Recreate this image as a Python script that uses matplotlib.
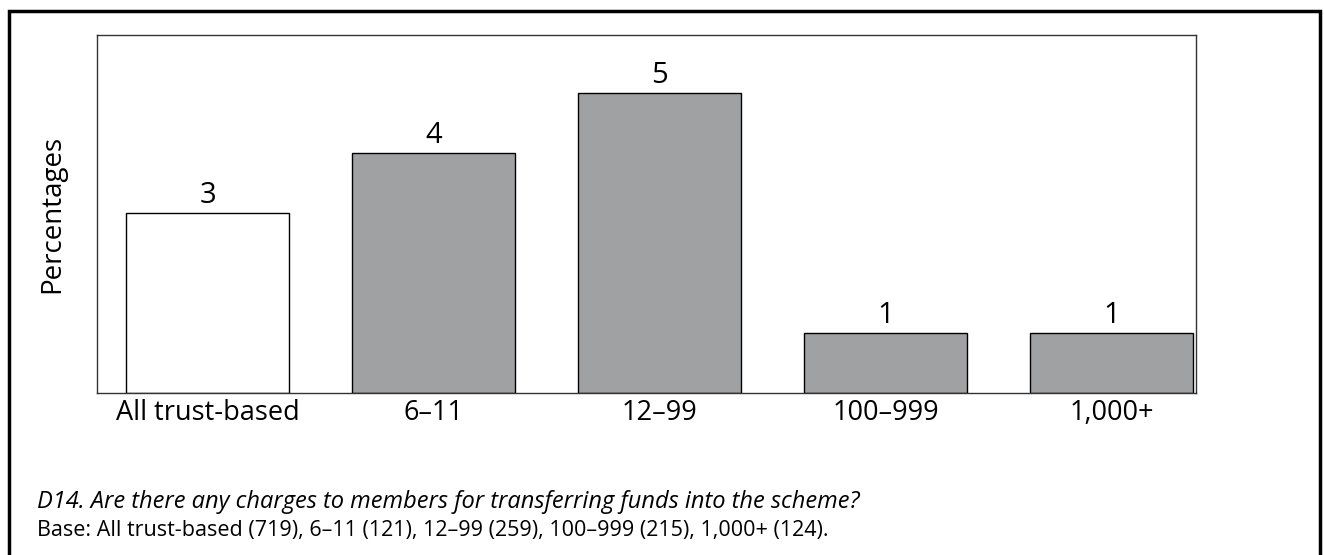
import matplotlib.pyplot as plt
from matplotlib.patches import Rectangle

plt.rcParams['font.family'] = ['Open Sans', 'DejaVu Sans']

categories = ['All trust-based', '6\u201311', '12\u201399', '100\u2013999', '1,000+']
values = [3, 4, 5, 1, 1]
fills = ['white', '#a0a1a3', '#a0a1a3', '#a0a1a3', '#a0a1a3']

question = 'D14. Are there any charges to members for transferring funds into the scheme?'
base = 'Base: All trust-based (719), 6\u201311 (121), 12\u201399 (259), 100\u2013999 (215), 1,000+ (124).'

fig = plt.figure(figsize=(13.24, 5.55), dpi=100)
ax = fig.add_axes([0.0733, 0.2919, 0.83, 0.645])

x = range(len(categories))
bars = ax.bar(x, values, width=0.72, color=fills, edgecolor='black', linewidth=1.0)
for b, v in zip(bars, values):
    ax.annotate(str(v), (b.get_x() + b.get_width() / 2, v), xytext=(0, 2.5),
                textcoords='offset points', ha='center', va='bottom', fontsize=21)

ax.set_xlim(-0.489, 4.374)
ax.set_ylim(0, 5.97)
ax.set_xticks(list(x))
ax.set_xticklabels(categories, fontsize=19.5)
ax.set_yticks([])
ax.tick_params(axis='x', length=0, pad=4)
ax.set_ylabel('Percentages', fontsize=20, labelpad=22)
for s in ax.spines.values():
    s.set_color('#333333')
    s.set_linewidth(1.0)

fig.text(0.028, 0.095, question, fontsize=17, style='italic', va='center')
fig.text(0.028, 0.045, base, fontsize=15.5, va='center')

# outer frame, open at the bottom edge
fig.patches.append(Rectangle((0.0065, -0.02), 0.9905, 1.0, transform=fig.transFigure,
                             fill=False, edgecolor='black', linewidth=2.5, clip_on=False))

fig.savefig('out.png', dpi=100)
